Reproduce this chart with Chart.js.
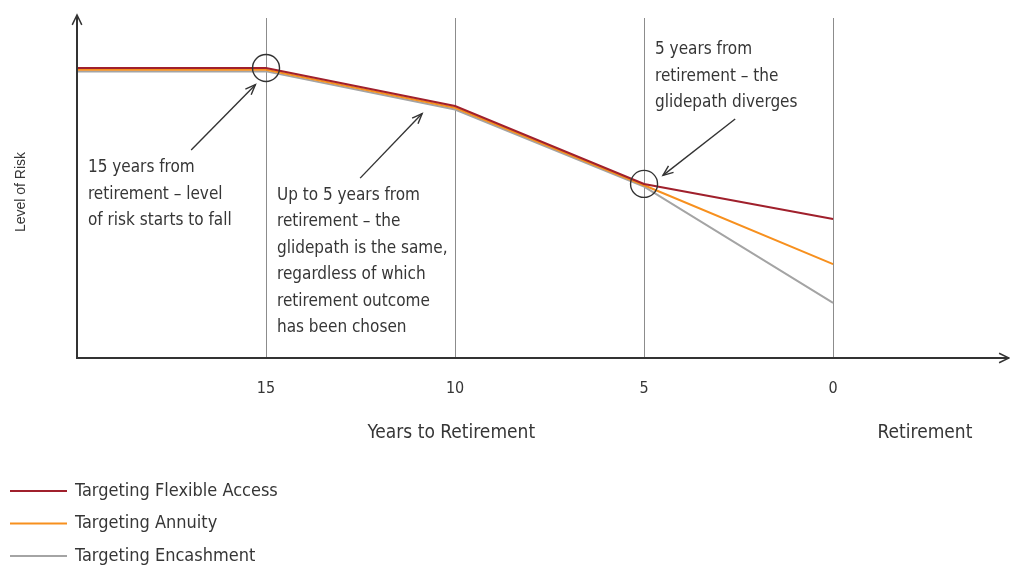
<!DOCTYPE html>
<html>
<head>
<meta charset="utf-8">
<script src="https://cdn.jsdelivr.net/npm/chart.js@4.4.1/dist/chart.umd.min.js"></script>
<style>
  html, body { margin: 0; padding: 0; background: #fff; }
</style>
</head>
<body>
<canvas id="chart" width="1010" height="569"></canvas>
<script>
// Glidepath: level of risk (arbitrary 0-100 scale) against years to retirement
const years = [20, 15, 10, 5, 0];
const flexibleAccess = [85.3, 85.3, 74.1, 51.2, 40.9];
const annuity = [84.8, 84.8, 73.6, 50.8, 27.6];
const encashment = [84.3, 84.3, 73.1, 50.4, 16.2];
const xTicks = [15, 10, 5, 0];
const seriesLabels = ["Targeting Flexible Access", "Targeting Annuity", "Targeting Encashment"];
const seriesColors = ["#a0202c", "#f7901e", "#a4a4a4"];
// points on the glidepath that get a circle
const markerYears = [15, 5];
const markerLevels = [85.3, 51.2];

const FONT = "'Liberation Sans Narrow', 'DejaVu Sans Condensed', 'Arial Narrow', sans-serif";
const INK = "#363636";

// callouts, anchored in data units (x = years, y = level)
const notes = [
  { x: 19.71, y: 55.9, lines: ["15 years from", "retirement – level", "of risk starts to fall"] },
  { x: 14.71, y: 47.9, lines: ["Up to 5 years from", "retirement – the", "glidepath is the same,",
      "regardless of which", "retirement outcome", "has been chosen"] },
  { x: 4.71, y: 90.6, lines: ["5 years from", "retirement – the", "glidepath diverges"] },
];
// [tailX, tailY, headX, headY]
const arrows = [
  [16.98, 61.2, 15.28, 80.4],
  [12.51, 52.9, 10.87, 71.9],
  [2.59, 70.3, 4.50, 53.7],
];

const toXY = (ys) => years.map((x, i) => ({ x, y: ys[i] }));

function chevron(ctx, hx, hy, tx, ty, len, spread) {
  const a = Math.atan2(hy - ty, hx - tx);
  ctx.beginPath();
  ctx.moveTo(hx - len * Math.cos(a - spread), hy - len * Math.sin(a - spread));
  ctx.lineTo(hx, hy);
  ctx.lineTo(hx - len * Math.cos(a + spread), hy - len * Math.sin(a + spread));
  ctx.stroke();
}

const decorations = {
  id: "decorations",
  afterDatasetsDraw(chart) {
    const { ctx, chartArea: a, scales: { x, y } } = chart;
    ctx.save();

    // axes with arrow heads
    ctx.strokeStyle = "#333";
    ctx.lineWidth = 2;
    ctx.beginPath();
    ctx.moveTo(a.left, a.top - 2);
    ctx.lineTo(a.left, a.bottom);
    ctx.lineTo(a.right - 1, a.bottom);
    ctx.stroke();
    ctx.lineWidth = 1.5;
    chevron(ctx, a.left, a.top - 3, a.left, a.bottom, 11, 0.45);
    chevron(ctx, a.right - 1, a.bottom, a.left, a.bottom, 11, 0.45);

    // callout arrows
    ctx.lineWidth = 1.4;
    for (const [tx, ty, hx, hy] of arrows) {
      const px = [x.getPixelForValue(tx), y.getPixelForValue(ty), x.getPixelForValue(hx), y.getPixelForValue(hy)];
      ctx.beginPath();
      ctx.moveTo(px[0], px[1]);
      ctx.lineTo(px[2], px[3]);
      ctx.stroke();
      chevron(ctx, px[2], px[3], px[0], px[1], 11, 0.38);
    }

    // callout text
    ctx.fillStyle = INK;
    ctx.font = "17px " + FONT;
    ctx.textAlign = "left";
    ctx.textBaseline = "middle";
    for (const n of notes) {
      const nx = x.getPixelForValue(n.x), ny = y.getPixelForValue(n.y);
      n.lines.forEach((t, i) => ctx.fillText(t, nx, ny + i * 26.5));
    }

    // axis titles
    ctx.font = "19px " + FONT;
    ctx.textAlign = "center";
    ctx.fillText("Years to Retirement", x.getPixelForValue(10.1), 433);
    ctx.fillText("Retirement", x.getPixelForValue(-2.43), 433);
    ctx.save();
    ctx.translate(21, 192);
    ctx.rotate(-Math.PI / 2);
    ctx.font = "14px 'Liberation Sans', Arial, sans-serif";
    ctx.fillText("Level of Risk", 0, 0);
    ctx.restore();

    // legend
    ctx.font = "18px " + FONT;
    ctx.textAlign = "left";
    seriesLabels.forEach((label, i) => {
      const ly = 491 + i * 32.5;
      ctx.strokeStyle = seriesColors[i];
      ctx.lineWidth = 2;
      ctx.beginPath();
      ctx.moveTo(10, ly);
      ctx.lineTo(67, ly);
      ctx.stroke();
      ctx.fillStyle = INK;
      ctx.fillText(label, 75, ly);
    });
    ctx.restore();
  },
};

const lineStyle = (c) => ({ borderColor: c, backgroundColor: c, borderWidth: 2, pointRadius: 0, tension: 0, fill: false });

new Chart(document.getElementById("chart"), {
  type: "line",
  data: {
    datasets: [
      { type: "scatter", label: "markers", data: markerYears.map((x, i) => ({ x, y: markerLevels[i] })),
        pointRadius: 13.5, pointBorderColor: "#333", pointBorderWidth: 1.4,
        pointBackgroundColor: "rgba(0,0,0,0)", showLine: false, order: 0 },
      { label: seriesLabels[0], data: toXY(flexibleAccess), ...lineStyle(seriesColors[0]), order: 1 },
      { label: seriesLabels[1], data: toXY(annuity), ...lineStyle(seriesColors[1]), order: 2 },
      { label: seriesLabels[2], data: toXY(encashment), ...lineStyle(seriesColors[2]), order: 3 },
    ],
  },
  options: {
    responsive: false,
    animation: false,
    layout: { autoPadding: false, padding: { left: 77, top: 18, right: 0, bottom: 0 } },
    plugins: { legend: { display: false }, tooltip: { enabled: false } },
    scales: {
      x: {
        type: "linear",
        reverse: true,
        min: -4.68,
        max: 20,
        afterBuildTicks: (s) => { s.ticks = xTicks.map((v) => ({ value: v })); },
        afterFit: (s) => { s.height = 211; },
        grid: { color: "#8c8c8c", lineWidth: 1, drawTicks: false },
        border: { display: false },
        ticks: { color: INK, font: { family: FONT, size: 16 }, padding: 21 },
      },
      y: { display: false, min: 0, max: 100 },
    },
  },
  plugins: [decorations],
});
</script>
</body>
</html>
